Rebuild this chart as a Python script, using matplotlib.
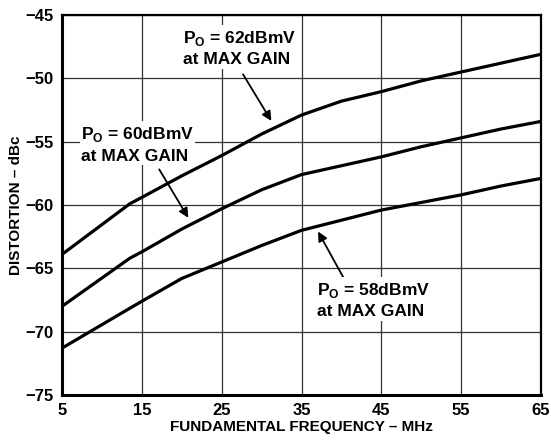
import matplotlib
matplotlib.use('Agg')
import matplotlib.pyplot as plt

plt.rcParams['font.family'] = ['Liberation Sans', 'DejaVu Sans']
plt.rcParams['font.weight'] = 'bold'
plt.rcParams['mathtext.fontset'] = 'custom'
plt.rcParams['mathtext.rm'] = 'Liberation Sans:bold'
plt.rcParams['mathtext.bf'] = 'Liberation Sans:bold'

# values
freq = [5, 13.5, 15, 20, 25, 30, 35, 40, 45, 50, 55, 60, 65]
dist_62 = [-63.9, -59.9, -59.4, -57.7, -56.1, -54.4, -52.9, -51.8, -51.05, -50.2, -49.5, -48.8, -48.1]
dist_60 = [-68.0, -64.2, -63.7, -61.9, -60.3, -58.8, -57.6, -56.9, -56.2, -55.4, -54.7, -54.0, -53.4]
dist_58 = [-71.3, -68.15, -67.6, -65.8, -64.5, -63.2, -62.0, -61.2, -60.4, -59.8, -59.2, -58.5, -57.9]

x_ticks = [5, 15, 25, 35, 45, 55, 65]
y_ticks = [-75, -70, -65, -60, -55, -50, -45]

fig = plt.figure(figsize=(5.51, 4.43), dpi=100)
ax = fig.add_axes([62 / 551, 1 - 395 / 443, (541 - 62) / 551, (395 - 15) / 443])

for ys in (dist_62, dist_60, dist_58):
    ax.plot(freq, ys, color='black', lw=2.3, solid_capstyle='butt', zorder=3)

ax.set_xlim(5, 65)
ax.set_ylim(-75, -45)
ax.set_xticks(x_ticks)
ax.set_yticks(y_ticks)
ax.tick_params(length=0, labelsize=12, pad=6)
ax.grid(True, color='#333333', lw=0.9)
ax.set_axisbelow(True)
for side in ['left', 'bottom']:
    ax.spines[side].set_linewidth(2.2)
for side in ['top', 'right']:
    ax.spines[side].set_linewidth(1.6)

ax.set_xlabel('FUNDAMENTAL FREQUENCY – MHz', fontsize=11, fontweight='bold', labelpad=1)
ax.set_ylabel('DISTORTION – dBc', fontsize=11, fontweight='bold', labelpad=2)

label_kw = dict(fontsize=12.5, fontweight='bold', ha='left', va='center',
                linespacing=1.4, bbox=dict(facecolor='white', edgecolor='none', pad=1))
arrow_kw = dict(arrowstyle='-|>', color='black', lw=1.3, mutation_scale=14)

ax.annotate('', xy=(31.4, -53.55), xytext=(27.5, -49.5), arrowprops=arrow_kw)
ax.text(20.1, -47.6, 'P$_\\mathregular{O}$ = 62dBmV\nat MAX GAIN', **label_kw)

ax.annotate('', xy=(21.0, -61.2), xytext=(17.0, -57.0), arrowprops=arrow_kw)
ax.text(7.4, -55.2, 'P$_\\mathregular{O}$ = 60dBmV\nat MAX GAIN', **label_kw)

ax.annotate('', xy=(36.9, -61.9), xytext=(40.4, -65.9), arrowprops=arrow_kw)
ax.text(37.0, -67.5, 'P$_\\mathregular{O}$ = 58dBmV\nat MAX GAIN', **label_kw)

fig.savefig('out.png', dpi=100)
